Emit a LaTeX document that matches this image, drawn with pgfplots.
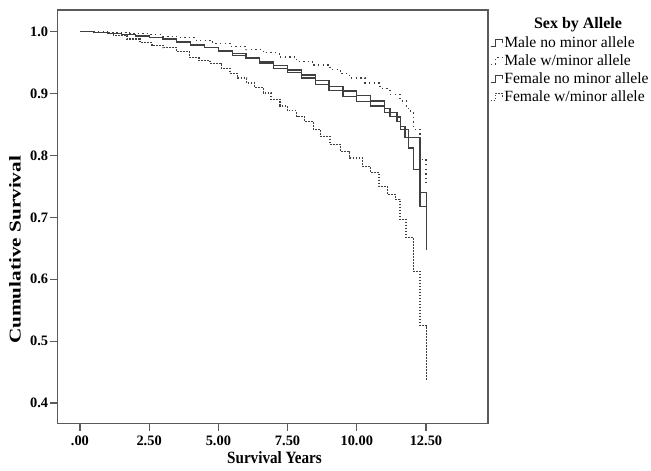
\documentclass[border=0pt]{standalone}
\usepackage{graphicx}
\usepackage{pgfplots}
\pgfplotsset{compat=1.18}
\usepackage{fontspec}
\setmainfont{Liberation Serif}

\definecolor{curve}{HTML}{404040}
\definecolor{frame}{HTML}{5A5A5A}

% Kaplan-Meier estimates (years, cumulative survival)
\pgfplotstableread{
t v
0 1.000
0.5 0.999
1.0 0.997
1.5 0.995
2.0 0.993
2.5 0.991
3.0 0.988
3.5 0.984
4.0 0.979
4.5 0.974
5.0 0.968
5.5 0.962
6.0 0.956
6.5 0.948
7.0 0.941
7.5 0.934
8.0 0.925
8.5 0.915
9.0 0.905
9.5 0.895
10.0 0.887
10.5 0.880
11.0 0.869
11.2 0.863
11.45 0.855
11.59 0.842
11.86 0.812
12.04 0.777
12.28 0.718
12.52 0.648
}\malenominor

\pgfplotstableread{
t v
0 1.000
0.5 0.9995
1.0 0.999
1.8 0.997
2.5 0.995
3.0 0.9925
3.5 0.990
4.2 0.986
4.8 0.981
5.42 0.976
6.0 0.971
6.62 0.966
7.2 0.959
7.83 0.952
8.4 0.946
9.03 0.939
9.4 0.932
9.75 0.925
10.3 0.917
10.84 0.908
11.2 0.899
11.56 0.888
11.8 0.876
11.95 0.869
12.05 0.842
12.28 0.794
12.5 0.756
}\maleminor

\pgfplotstableread{
t v
0 1.000
0.5 0.999
1.0 0.997
1.5 0.995
2.0 0.993
2.5 0.990
3.0 0.987
3.5 0.983
4.0 0.978
4.5 0.974
5.0 0.970
5.5 0.965
6.0 0.958
6.5 0.951
7.0 0.945
7.5 0.938
8.0 0.930
8.5 0.921
9.0 0.912
9.5 0.904
10.0 0.897
10.5 0.888
11.0 0.876
11.2 0.870
11.45 0.862
11.59 0.847
11.74 0.829
12.28 0.740
12.52 0.718
}\femalenominor

\pgfplotstableread{
t v
0 1.000
0.5 0.998
1.2 0.9935
1.7 0.988
2.17 0.982
2.6 0.978
3.0 0.974
3.5 0.968
3.97 0.958
4.3 0.954
4.7 0.949
5.1 0.941
5.42 0.933
5.7 0.925
6.02 0.917
6.3 0.910
6.62 0.901
6.9 0.891
7.23 0.880
7.5 0.872
7.83 0.863
8.1 0.855
8.43 0.842
8.7 0.831
9.03 0.818
9.4 0.806
9.75 0.796
10.2 0.782
10.5 0.772
10.8 0.750
11.1 0.737
11.4 0.729
11.56 0.697
11.78 0.667
12.04 0.613
12.28 0.525
12.52 0.436
}\femaleminor

\begin{document}
\begin{tikzpicture}
\begin{axis}[
  scale only axis,
  width=215.25pt, height=206.75pt,
  xmin=-0.81, xmax=14.74, ymin=0.367, ymax=1.035,
  axis line style={frame, line width=0.6pt},
  tick style={frame, line width=0.6pt},
  tick align=outside, tick pos=left, major tick length=3.5pt,
  xtick={0,2.5,5,7.5,10,12.5},
  xticklabels={.00,2.50,5.00,7.50,10.00,12.50},
  ytick={0.4,0.5,0.6,0.7,0.8,0.9,1.0},
  yticklabel style={/pgf/number format/.cd, fixed, fixed zerofill, precision=1},
  xticklabel style={yshift=-1.5pt},
  /pgf/number format/assume math mode=true,
  tick label style={font=\fontsize{7.2}{8}\selectfont\bfseries, inner sep=1pt},
  xlabel={\scalebox{0.88}[1]{Survival Years}},
  ylabel={\scalebox{1}[0.78]{Cumulative Survival}},
  xlabel style={font=\fontsize{8.6}{9}\selectfont\bfseries, at={(axis description cs:0.504,-0.0834)}, anchor=center},
  ylabel style={font=\fontsize{10.6}{11}\selectfont\bfseries, at={(axis description cs:-0.0987,0.42)}, anchor=center},
  every axis plot/.append style={curve, line width=0.6pt, const plot},
  legend image code/.code={\draw[#1, line width=0.5pt] (0pt,-1.8pt) -- (2.4pt,-1.8pt) -- (2.4pt,1.8pt) -- (6pt,1.8pt) -- (6pt,0pt);},
  legend style={at={(1.004,0.943)}, anchor=north west, draw=none, fill=none,
    font=\fontsize{7.8}{9}\selectfont, row sep=0pt, inner sep=0pt,
    nodes={inner sep=0.6pt, text height=6.3pt, text depth=1.5pt}},
  legend cell align=left,
]
  \addplot[solid] table[x=t, y=v] {\malenominor};
  \addlegendentry{Male no minor allele}
  \addplot[dash pattern=on 0.7pt off 1.6pt] table[x=t, y=v] {\maleminor};
  \addlegendentry{Male w/minor allele}
  \addplot[solid] table[x=t, y=v] {\femalenominor};
  \addlegendentry{Female no minor allele}
  \addplot[dash pattern=on 0.9pt off 0.6pt] table[x=t, y=v] {\femaleminor};
  \addlegendentry{Female w/minor allele}
\end{axis}
\node[font=\fontsize{8}{9}\selectfont\bfseries] at ([shift={(45pt,-7.5pt)}]current axis.north east) {Sex by Allele};
\pgfresetboundingbox
\path[use as bounding box] ([shift={(-28.75pt,-23.25pt)}]current axis.south west) rectangle ++(325.5pt,235pt);
\end{tikzpicture}
\end{document}
